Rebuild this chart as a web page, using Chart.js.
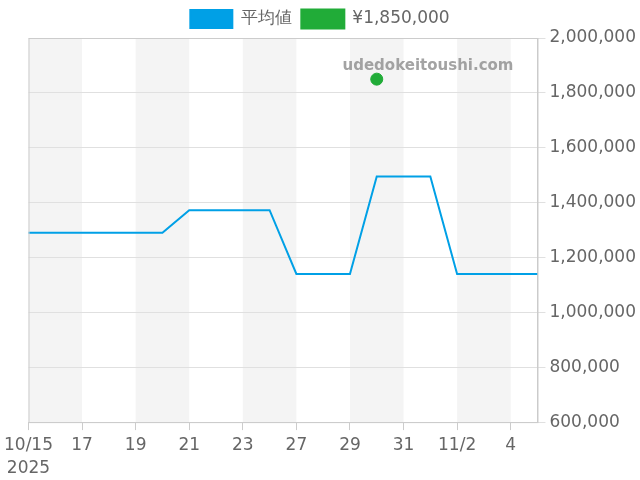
<!DOCTYPE html>
<html>
<head>
<meta charset="utf-8">
<script src="https://cdn.jsdelivr.net/npm/chart.js@4.4.1/dist/chart.umd.min.js"></script>
<style>
html,body{margin:0;padding:0;background:#fff;}
#wrap{width:640px;height:480px;}
</style>
</head>
<body>
<div id="wrap"><canvas id="c" width="640" height="480"></canvas></div>
<script>
const categories = [['10/15','2025'],'16','17','18','19','20','21','22','23','24','27','28','29','30','31','11/1','11/2','3','4','5'];
const averageValues = [1290000,1290000,1290000,1290000,1290000,1290000,1372500,1372500,1372500,1372500,1140000,1140000,1140000,1495000,1495000,1495000,1140000,1140000,1140000,1140000];
const listingValues = [null,null,null,null,null,null,null,null,null,null,null,null,null,1850000,null,null,null,null,null,null];
const seriesNames = ['平均値','¥1,850,000'];
const yTicks = {min:600000, max:2000000, step:200000};

const FONT = "'DejaVu Sans', sans-serif";
Chart.defaults.font.family = FONT;
Chart.defaults.font.size = 17;
Chart.defaults.color = '#666';

const bgPlugin = {
  id:'bands',
  beforeDraw(chart){
    const {ctx, chartArea:a, scales:{x}} = chart;
    ctx.save();
    ctx.fillStyle = '#f4f4f4';
    for(let i=0;i<categories.length;i+=4){
      const x0 = x.getPixelForValue(i);
      const x1 = x.getPixelForValue(Math.min(i+2, categories.length-1));
      ctx.fillRect(x0, a.top, x1-x0, a.bottom-a.top);
    }
    ctx.restore();
  },
  afterDatasetsDraw(chart){
    const {ctx, chartArea:a} = chart;
    ctx.save();
    ctx.strokeStyle = '#cccccc';
    ctx.lineWidth = 1;
    ctx.strokeRect(a.left+0.5, a.top+0.5, a.right-a.left, a.bottom-a.top);
    ctx.font = "bold 15px " + FONT;
    ctx.fillStyle = 'rgba(140,140,140,0.8)';
    ctx.textAlign = 'right';
    ctx.textBaseline = 'middle';
    ctx.fillText('udedokeitoushi.com', a.right-24, a.top+28);
    ctx.restore();
  }
};

new Chart(document.getElementById('c'), {
  type:'line',
  data:{
    labels: categories,
    datasets:[
      {label:seriesNames[0], data:averageValues, borderColor:'#00a0e6', backgroundColor:'#00a0e6', borderWidth:2, pointRadius:0, tension:0, fill:false},
      {label:seriesNames[1], data:listingValues, borderColor:'#21ac38', backgroundColor:'#21ac38', showLine:false, pointRadius:6, pointHoverRadius:6}
    ]
  },
  options:{
    responsive:false,
    animation:false,
    layout:{padding:{left:0,right:0,top:0,bottom:-4}},
    plugins:{
      legend:{position:'top', labels:{boxWidth:42, boxHeight:18, padding:10, font:{size:17}}},
      tooltip:{enabled:false}
    },
    scales:{
      x:{
        offset:false,
        grid:{drawOnChartArea:false, drawTicks:true, tickLength:8, color:'#cccccc'},
        border:{color:'#cccccc'},
        ticks:{autoSkip:true, maxTicksLimit:10, maxRotation:0, padding:4, font:{size:17, lineHeight:1.35}}
      },
      y:{
        position:'right',
        min:yTicks.min, max:yTicks.max,
        grid:{color:'#e0e0e0', tickLength:8},
        border:{color:'#cccccc'},
        ticks:{stepSize:yTicks.step, padding:4, font:{size:17}, callback:v=>v.toLocaleString('en-US')}
      }
    }
  },
  plugins:[bgPlugin]
});
</script>
</body>
</html>
